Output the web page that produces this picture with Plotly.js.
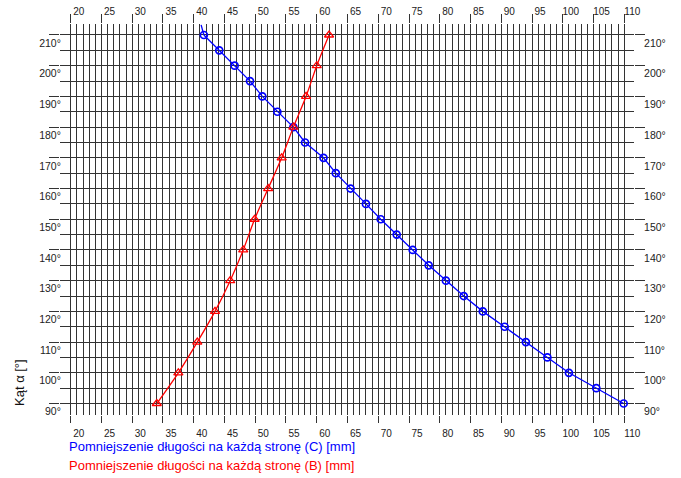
<!DOCTYPE html>
<html><head><meta charset="utf-8">
<script src="https://cdn.plot.ly/plotly-3.0.1.min.js"></script>
<style>html,body{margin:0;padding:0;background:#fff}</style>
</head><body><div id="chart" style="width:681px;height:478px"></div>
<script>
// Series C (blue): angle [deg] vs length reduction [mm]
const angleC = [90,95,100,105,110,115,120,125,130,135,140,145,150,155,160,165,170,175,180,185,190,195,200,205,210];
const lengthC = [109.9,105.45,101.0,97.5,94.0,90.55,87.0,83.9,81.0,78.2,75.6,73.0,70.4,68.0,65.5,63.1,61.1,58.1,56.2,53.6,51.15,49.15,46.65,44.15,41.65];
// short continuation of curve C above 210 deg
const angleCExt = [210, 213.3];
const lengthCExt = [41.65, 41.2];
// Series B (red)
const angleB = [90,100,110,120,130,140,150,160,170,180,190,200,210];
const lengthB = [34.0,37.5,40.58,43.46,45.93,48.05,49.9,52.1,54.3,56.2,58.26,60.0,62.0];
// ticks
const xTickVals = [20,25,30,35,40,45,50,55,60,65,70,75,80,85,90,95,100,105,110];
const xTickText = xTickVals.map(String);
const xMinorVals = [];
for (let v = 20; v <= 110; v++) if (v % 5 !== 0) xMinorVals.push(v);
const yTickVals = [90,100,110,120,130,140,150,160,170,180,190,200,210];
const yTickText = yTickVals.map(v => v + '°');
const labelC = 'Pomniejszenie długości na każdą stronę (C) [mm]';
const labelB = 'Pomniejszenie długości na każdą stronę (B) [mm]';
const yLabel = 'Kąt α [°]';

const FONT = 'Liberation Sans, Arial, sans-serif';
const xRange = [18.26, 111.58];
const yRange = [86.26, 213.58];

const traces = [
  {x: lengthCExt, y: angleCExt, mode: 'lines', line: {color: '#0000ff', width: 1.3}, xaxis: 'x', yaxis: 'y', hoverinfo: 'skip', showlegend: false},
  {x: lengthC, y: angleC, mode: 'lines+markers', line: {color: '#0000ff', width: 1.3},
   marker: {symbol: 'circle-open', size: 7, color: '#0000ff', line: {width: 1.7, color: '#0000ff'}},
   xaxis: 'x', yaxis: 'y', showlegend: false},
  {x: lengthB, y: angleB, mode: 'lines+markers', line: {color: '#ff0000', width: 1.3, shape: 'spline', smoothing: 0.8},
   marker: {symbol: 'triangle-up-open', size: 8, color: '#ff0000', line: {width: 1.3, color: '#ff0000'}},
   xaxis: 'x2', yaxis: 'y2', showlegend: false}
];

const gridCol = '#333333';
const common = {zeroline: false, showline: false, fixedrange: true};
const layout = {
  width: 681, height: 478,
  margin: {l: 60, r: 47, t: 24, b: 63},
  paper_bgcolor: '#fff', plot_bgcolor: '#fff',
  font: {family: FONT, color: '#222'},
  showlegend: false,
  xaxis: Object.assign({}, common, {
    range: xRange, tickmode: 'array', tickvals: xTickVals, ticktext: xTickText,
    ticks: 'outside', ticklen: 7, tickwidth: 1, tickcolor: gridCol,
    showgrid: true, gridcolor: gridCol, gridwidth: 1,
    minor: {tickmode: 'array', tickvals: xMinorVals, showgrid: true, gridcolor: gridCol, gridwidth: 1, ticks: ''},
    ticklabelshift: 8, ticklabelstandoff: 2, tickfont: {size: 10, color: '#222'}
  }),
  xaxis2: Object.assign({}, common, {
    range: xRange, overlaying: 'x', side: 'top', anchor: 'y',
    tickmode: 'array', tickvals: xTickVals, ticktext: xTickText,
    ticks: 'outside', ticklen: 9, tickwidth: 1, tickcolor: gridCol,
    showgrid: false, ticklabelshift: 8, ticklabelstandoff: -5,
    tickfont: {size: 10, color: '#222'}
  }),
  yaxis: Object.assign({}, common, {
    range: yRange, tickmode: 'array', tickvals: yTickVals, ticktext: yTickText,
    ticks: 'outside', ticklen: 10, tickwidth: 1, tickcolor: gridCol,
    showgrid: true, gridcolor: gridCol, gridwidth: 1,
    minor: {tickmode: 'linear', tick0: 90, dtick: 5, showgrid: true, gridcolor: gridCol, gridwidth: 1, ticks: ''},
    ticklabelshift: 8, ticklabelstandoff: -14, tickfont: {size: 10.5, color: '#222'}
  }),
  yaxis2: Object.assign({}, common, {
    range: yRange, overlaying: 'y', side: 'right', anchor: 'x',
    tickmode: 'array', tickvals: yTickVals, ticktext: yTickText,
    ticks: 'outside', ticklen: 10, tickwidth: 1, tickcolor: gridCol,
    showgrid: false, ticklabelshift: 8, ticklabelstandoff: -3, tickfont: {size: 10.5, color: '#222'}
  }),
  annotations: [
    {text: yLabel, xref: 'paper', yref: 'paper', x: -0.0697, y: 0.0844, textangle: -90,
     showarrow: false, xanchor: 'center', yanchor: 'middle', font: {size: 13, color: '#111'}},
    {text: labelC, xref: 'paper', yref: 'paper', x: 0.0122, y: -0.0793, xanchor: 'left', yanchor: 'middle',
     showarrow: false, font: {size: 13, color: '#0000ff'}},
    {text: labelB, xref: 'paper', yref: 'paper', x: 0.0122, y: -0.1279, xanchor: 'left', yanchor: 'middle',
     showarrow: false, font: {size: 13, color: '#ff0000'}}
  ]
};

Plotly.newPlot('chart', traces, layout, {staticPlot: true, displayModeBar: false});
</script></body></html>
